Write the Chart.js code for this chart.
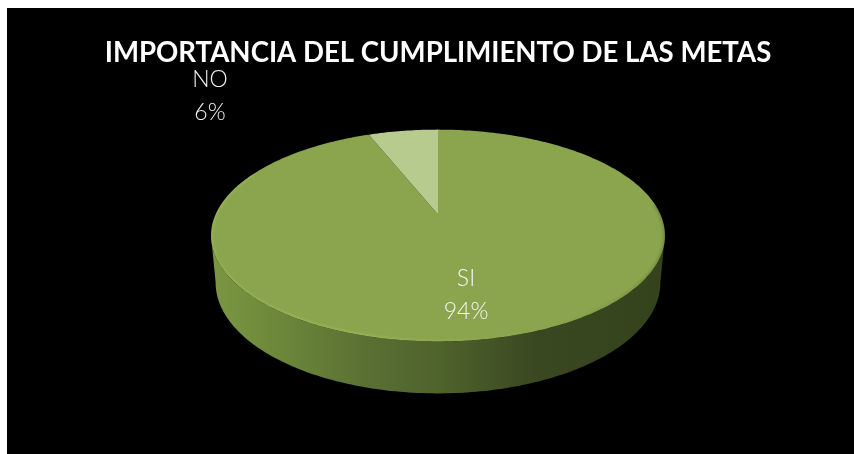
<!DOCTYPE html>
<html lang="es">
<head>
    <meta charset="UTF-8">
    <title>Importancia del cumplimiento de las metas</title>
    <script src="https://cdn.jsdelivr.net/npm/chart.js@4/dist/chart.umd.min.js"></script>
    <style>
        html, body { margin: 0; padding: 0; background: #fff; overflow: hidden; }
        #holder { position: absolute; left: 7px; top: 8px; width: 847px; height: 446px; background: #000; }
    </style>
</head>
<body>
    <div id="holder"><canvas id="metas"></canvas></div>

    <script>
        const chartTitle = "IMPORTANCIA DEL CUMPLIMIENTO DE LAS METAS";
        const categories = ["SI", "NO"];
        const shares = [94, 6];
        const sliceColors = ["#8aa54e", "#b7cb8f"];

        // tilted disc: the pie's unit circle goes through a perspective projection
        const tilt = { stretchX: 1.54, stretchY: 0.7045, lean: -0.198, depth: 46, floorShrink: 0.98, floorDrop: 1.047 };
        const labelSpots = [[459, 271], [203, 72]];

        function rimPoint(arc, angle, floor) {
            const u = Math.cos(angle), v = Math.sin(angle);
            const w = 1 + tilt.lean * v;
            const r = arc.outerRadius;
            return [
                arc.x + r * tilt.stretchX * (floor ? tilt.floorShrink : 1) * u / w,
                arc.y + r * tilt.stretchY * (floor ? tilt.floorDrop : 1) * v / w + (floor ? tilt.depth : 0)
            ];
        }

        function traceRim(ctx, arc, from, to, floor) {
            const steps = Math.max(2, Math.ceil(Math.abs(to - from) * 60));
            for (let i = 0; i <= steps; i++) {
                const p = rimPoint(arc, from + (to - from) * i / steps, floor);
                ctx.lineTo(p[0], p[1]);
            }
        }

        const tiltedPie = {
            id: "tiltedPie",
            beforeDatasetDraw(chart, args) {
                const ctx = chart.ctx;
                const arcs = chart.getDatasetMeta(args.index).data;
                const first = arcs[0];
                const side = -tilt.lean;

                // wall below the front half of the disc
                const wall = ctx.createLinearGradient(first.x - 225, 0, first.x + 225, 0);
                wall.addColorStop(0, "#7b9642");
                wall.addColorStop(0.12, "#6f8a3b");
                wall.addColorStop(0.35, "#596f33");
                wall.addColorStop(0.5, "#4f632c");
                wall.addColorStop(0.72, "#394820");
                wall.addColorStop(1, "#35431d");
                ctx.save();
                ctx.fillStyle = wall;
                ctx.beginPath();
                traceRim(ctx, first, side, Math.PI - side, false);
                traceRim(ctx, first, Math.PI - side, side, true);
                ctx.closePath();
                ctx.fill();

                arcs.forEach((arc, i) => {
                    ctx.fillStyle = sliceColors[i];
                    ctx.beginPath();
                    ctx.moveTo(arc.x, arc.y);
                    traceRim(ctx, arc, arc.startAngle, arc.endAngle, false);
                    ctx.closePath();
                    ctx.fill();
                });

                // soft bevel along the disc's front and left edge
                const bevel = ctx.createLinearGradient(first.x - 225, 0, first.x + 225, 0);
                bevel.addColorStop(0, "rgba(172,200,98,0.3)");
                bevel.addColorStop(0.35, "rgba(172,200,98,0.4)");
                bevel.addColorStop(0.7, "rgba(150,175,85,0.15)");
                bevel.addColorStop(1, "rgba(70,88,38,0.3)");
                ctx.beginPath();
                traceRim(ctx, first, 0, Math.PI * 2, false);
                ctx.closePath();
                ctx.clip();
                ctx.filter = "blur(1px)";
                ctx.strokeStyle = bevel;
                ctx.lineWidth = 4;
                ctx.beginPath();
                traceRim(ctx, first, -0.1, Math.PI + 0.45, false);
                ctx.stroke();
                ctx.restore();
                return false;
            },
            afterDatasetsDraw(chart) {
                const ctx = chart.ctx;
                ctx.save();
                ctx.fillStyle = "#f5f5f5";
                ctx.textAlign = "center";
                ctx.textBaseline = "middle";
                ctx.font = "300 23px Lato";
                categories.forEach((name, i) => {
                    const spot = labelSpots[i];
                    ctx.fillText(name, spot[0], spot[1]);
                    ctx.fillText(shares[i] + "%", spot[0], spot[1] + 33);
                });
                ctx.restore();
            }
        };

        new Chart(document.getElementById("metas"), {
            type: "pie",
            data: {
                labels: categories,
                datasets: [{ data: shares, backgroundColor: sliceColors, borderWidth: 0 }]
            },
            options: {
                responsive: true,
                maintainAspectRatio: false,
                animation: false,
                rotation: 0,
                layout: { padding: { left: 15, bottom: 95 } },
                plugins: {
                    legend: { display: false },
                    tooltip: { enabled: false },
                    title: {
                        display: true,
                        text: chartTitle,
                        color: "#ffffff",
                        font: { family: "Lato", size: 27.6, weight: "bold" },
                        padding: { top: 29, bottom: 0 }
                    }
                }
            },
            plugins: [tiltedPie]
        });
    </script>
</body>
</html>
